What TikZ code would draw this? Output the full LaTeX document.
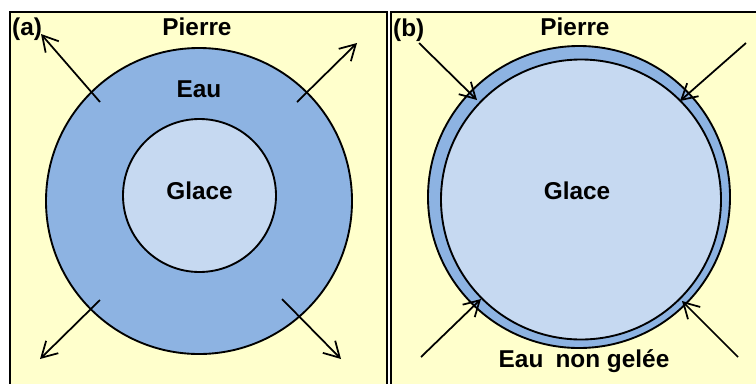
\documentclass[tikz,border=0pt]{standalone}
\usepackage{fontspec}
\setmainfont{Liberation Sans}
\usetikzlibrary{arrows.meta}
\usetikzlibrary{positioning}
\tikzset{arr/.style = {-{Straight Barb[length=4.6mm, width=5.2mm]}, line width=1.5pt}}
\tikzset{lbl/.style = {font=\bfseries\fontsize{20.8}{24}\selectfont, inner sep=0, anchor=base}}
\tikzset{rim/.style = {draw, line width=1.6pt}}
\definecolor{mstone}{rgb}{1, 1, 0.8}
\definecolor{mwater}{rgb}{0.553, 0.702, 0.886}
\definecolor{mice}{rgb}{0.776, 0.851, 0.945}

\begin{document}
\begin{tikzpicture}[x=0.03cm, y=-0.03cm]
      \useasboundingbox (0, 0) rectangle (756, 383);
      \clip (0, 0) rectangle (756, 383);

      \draw [fill=mstone, line width=1.6pt] (10, 12) rectangle (387, 400);
      \draw [fill=mstone, line width=1.6pt] (391, 12) rectangle (780, 400);

      \draw [rim, fill=mwater] (199, 201) circle [radius=153];
      \draw [rim, fill=mice] (199.5, 195.5) circle [radius=76.5];

      \draw [arr] (100, 102) -- (41, 34);
      \draw [arr] (297, 102) -- (357, 43);
      \draw [arr] (100, 300) -- (40, 359);
      \draw [arr] (282, 299) -- (341, 359);

      \node [lbl, anchor=base west] (tagA) at (12, 35.5) {(a)};
      \node [lbl] (pierreA) at (197, 35.5) {Pierre};
      \node [lbl] (eau) at (199, 97) {Eau};
      \node [lbl] (glaceA) at (199.5, 199.5) {Glace};

      \draw [rim, fill=mwater] (579, 197) circle [radius=151];
      \draw [rim, fill=mice] (581, 199.5) circle [radius=140];

      \draw [arr] (419, 43) -- (477, 100);
      \draw [arr] (746, 43) -- (680, 101);
      \draw [arr] (421, 357) -- (481, 299);
      \draw [arr] (738, 357) -- (682, 301);

      \node [lbl, anchor=base west] (tagB) at (393, 36) {(b)};
      \node [lbl] (pierreB) at (575, 35) {Pierre};
      \node [lbl] (glaceB) at (577, 199) {Glace};
      \node [lbl] (gelee) at (584, 367) {Eau\hspace{0.5em}non gelée};
\end{tikzpicture}
\end{document}
